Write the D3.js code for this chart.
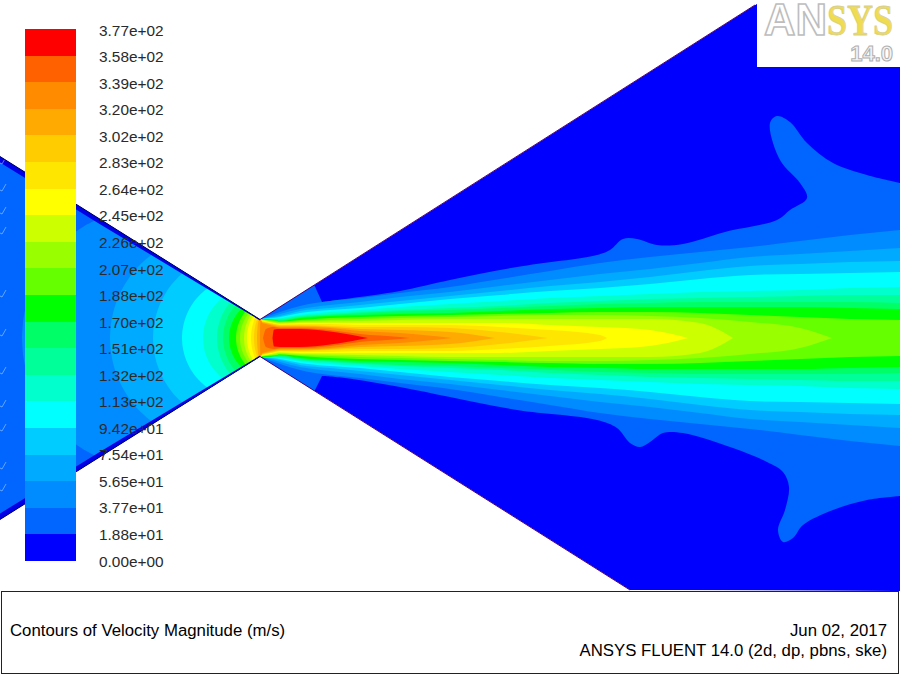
<!DOCTYPE html>
<html><head><meta charset="utf-8">
<script src="https://cdnjs.cloudflare.com/ajax/libs/d3/7.8.5/d3.min.js"></script>
<style>html,body{margin:0;padding:0;background:#fff}svg{display:block}text{font-family:"Liberation Sans",Arial,sans-serif}</style>
</head><body><svg id="c" width="900" height="675"></svg>
<script>
// ---------- legend ----------
const levelLabels=["0.00e+00","1.88e+01","3.77e+01","5.65e+01","7.54e+01","9.42e+01","1.13e+02","1.32e+02","1.51e+02","1.70e+02","1.88e+02","2.07e+02","2.26e+02","2.45e+02","2.64e+02","2.83e+02","3.02e+02","3.20e+02","3.39e+02","3.58e+02","3.77e+02"];
const bandColors=["#0000ff","#0066ff","#008cff","#00aaff","#00ccff","#00ffff","#00ffcc","#00ff99","#00ff66","#00ff00","#66ff00","#99ff00","#ccff00","#ffff00","#ffe600","#ffcc00","#ffaa00","#ff8c00","#ff6000","#ff0000"];
// ---------- geometry (axial x, radial r from the axis) ----------
const wallX=[0,260], wallR=[181.5,18.5];
const upperExit=[755,333], lowerExit=[630,252];
const layerX=[0,100,200,260], layerThickness=[6,5,2.5,1];
const inletMarkR=[178,151,128,108,45,6,-32,-65,-89,-127,-149];
// contour between band 0 and band 1
const blobUpper=[[322,36],[345,39],[400,47],[450,58],[517,71],[597,83],[610,88],[623,99],[637,99],[657,93],[683,94],[725,106],[777,118],[790,128],[807,140],[800,155],[780,178],[770,215],[777,222],[790,216],[807,195],[833,175],[867,163],[900,155]];
const blobLower=[[322,38],[345,40],[400,49],[450,59],[517,72],[597,82],[617,90],[630,105],[640,109],[650,104],[663,95],[683,95],[733,110],[767,124],[783,134],[789,149],[785,172],[778,192],[783,204],[793,200],[803,187],[833,172],[867,162],[900,158]];
// contours 2..19: where each crosses the axis in the nozzle, where it meets the wall, where its jet tongue ends
const nozzleAxisX=[22,110,153,182,203,217,223,229,236,240,244,247,251,254,257,260,263,272.5];
const nozzleWallX=[100,155,185,210,225,232,237,243,247,250,252,254,256,258,259,260.5,null,null];
const tongueTipX=[null,null,null,null,null,null,null,null,null,832,733,688,607,548,495,452,410,368];
const stations=[262,266,274,280,300,330,360,400,450,500,550,600,650,700,750,800,850,900];
const jet02=[19,21,24,26,32,37,40,45,51,59,67,75,81,86,91,97,103,108];
const jet03=[19,20,22,24,29,33,36,41,46,52,58,64,69,75,81,84,87,90];
const jet04=[19,20,21,22,27,30,33,37,42,47,52,56,61,67,72,74,76,77];
const jet05=[19,19.5,20,21,25,28,30,34,39,43,47,50,54,59,63,64,65,66];
const jet06=[19,19.5,19.5,20,23,26,28,31,34,37,40,42,44,46,47,48,50,51];
const jet07=[19,19,19,19,22,24,26,28,30,32,35,37,39,40,41,42,43,43];
const jet08=[19,19,18.5,18,21,23,25,27,28,30,32,34,35,36,36,36,36,35];
const jet09=[19,19,18,17,20,22,23,24,25,27,29,30,31,31,31,31,30,29];
const jet10=[18.5,18,17.5,16.5,18,20,21,22,23,24,25,26,26,25,23,21,19,18];
const jet11=[18,17.5,17,16,17,18,19,20,21,22,23,23,22,20,16,10];
const jet12=[18,17.5,16,15,16,16.5,17,18,19,19,19,19,19,15];
const jet13=[17.5,17,15,14,15,15,15,15,15,15,13,11,8];
const jet14=[17,16,14.5,13.5,14,14,13,13,13,11,8,3];
const jet15=[16.5,15.5,14,13,13,12,11,11,10,6];
const jet16=[16,15,13,12,12,11,9,8,6];
const jet17=[15,14,12,11,11,10,7,5];
const jet18=[null,9,11,10,10,8,4,1];
const jet19=[null,null,8.5,9,9,6.5,1.5];
const jets=[jet02,jet03,jet04,jet05,jet06,jet07,jet08,jet09,jet10,jet11,jet12,jet13,jet14,jet15,jet16,jet17,jet18,jet19];

// ---------- scales ----------
const X=d3.scaleLinear().domain([0,900]).range([0,900]);
const Y=d3.scaleLinear().domain([338,-337]).range([0,675]);
const legendY=d3.scaleLinear().domain([0,20]).range([561,29]);
const labelY=d3.scaleLinear().domain([0,20]).range([562.5,31.5]);
const wallAt=d3.scaleLinear().domain(wallX).range(wallR);

const svg=d3.select("#c");
const defs=svg.append("defs");
const domain=[[0,wallR[0]],[wallX[1],wallR[1]],upperExit,[763,338],[900,338],[900,-253],lowerExit.map((v,i)=>i?-v:v),[wallX[1],-wallR[1]],[0,-wallR[0]]];
const poly=d3.line().x(d=>X(d[0])).y(d=>Y(d[1]));
defs.append("clipPath").attr("id","flow").append("path").attr("d",poly(domain)+"Z");
const field=svg.append("g").attr("clip-path","url(#flow)");
field.append("path").attr("d",poly(domain)+"Z").attr("fill",bandColors[0]);

// half-shape helpers: sign +1 = above the axis, -1 = below
const smooth=s=>d3.line().x(d=>X(d[0])).y(d=>Y(s*d[1])).curve(d3.curveCatmullRom.alpha(0.5));
const mono=s=>d3.line().x(d=>X(d[0])).y(d=>Y(s*d[1])).curve(d3.curveMonotoneX);
const straight=s=>d3.line().x(d=>X(d[0])).y(d=>Y(s*d[1]));
const join=(a,b)=>a+"L"+b.slice(1);

// contour 1
[[1,blobUpper],[-1,blobLower]].forEach(([s,pts])=>{
  const head=straight(s)([[-5,0],[-5,200],[260,30],[312,58]]);
  const d=join(join(head,smooth(s)(pts)),straight(s)([[900,pts[pts.length-1][1]],[900,0]]))+"Z";
  field.append("path").attr("d",d).attr("fill",bandColors[1]);
});

function nozzleArc(x0,xw){
  const rw=wallAt(xw)+1.5, c=(xw*xw+rw*rw-x0*x0)/(2*(xw-x0)), R=c-x0, th=Math.atan2(rw,c-xw);
  return d3.range(9).map(k=>{const t=th*k/8;return [c-R*Math.cos(t),R*Math.sin(t)];});
}
jets.forEach((rs,idx)=>{
  const level=idx+2;
  const jetPts=stations.map((x,i)=>[x,rs[i]]).filter(p=>p[1]!=null);
  [1,-1].forEach(s=>{
    let d;
    const tip=tongueTipX[idx];
    const body=tip==null?jetPts:jetPts.concat([[tip,0]]);
    if(nozzleWallX[idx]!=null){
      d=join(smooth(s)(nozzleArc(nozzleAxisX[idx],nozzleWallX[idx])),mono(s)(body));
    }else{
      d=mono(s)([[nozzleAxisX[idx],0]].concat(body));
    }
    if(tip==null) d=join(d,straight(s)([[900,0]]));
    field.append("path").attr("d",d+"Z").attr("fill",bandColors[level]);
  });
});

// near-wall layer in the converging part
[1,-1].forEach(s=>{
  const outer=layerX.map(x=>[x,wallAt(x)+2]);
  const inner=layerX.map((x,i)=>[x,wallAt(x)-layerThickness[i]]).reverse();
  field.append("path").attr("d",straight(s)(outer.concat(inner))+"Z").attr("fill","#0000e6");
});
// inlet marks
field.selectAll("path.mark").data(inletMarkR).join("path").attr("class","mark")
  .attr("d",r=>straight(1)([[0,r-3],[2,r-4],[6,r+3]])).attr("fill","none").attr("stroke","#cfe8ff").attr("stroke-width",0.8).attr("opacity",0.6);
// walls
const wallLine=(pts,col,w)=>svg.append("path").attr("d",poly(pts)).attr("fill","none").attr("stroke",col).attr("stroke-width",w);
wallLine([[0,wallR[0]],[wallX[1],wallR[1]]],"#000060",1);
wallLine([[0,-wallR[0]],[wallX[1],-wallR[1]]],"#000060",1);
wallLine([[wallX[1],wallR[1]],upperExit],"#500070",1);
wallLine([[wallX[1],-wallR[1]],[lowerExit[0],-lowerExit[1]]],"#500070",1);

// ---------- legend ----------
svg.append("g").attr("shape-rendering","crispEdges").selectAll("rect").data(bandColors).join("rect")
  .attr("x",25).attr("width",51)
  .attr("y",(c,i)=>Math.round(legendY(i+1))).attr("height",(c,i)=>Math.round(legendY(i))-Math.round(legendY(i+1)))
  .attr("fill",c=>c);
svg.append("g").selectAll("text").data(levelLabels).join("text")
  .attr("x",99).attr("y",(t,i)=>labelY(i)).attr("dominant-baseline","middle")
  .attr("font-size",15.4).attr("fill","#2a2a2a").text(t=>t);

// ---------- logo ----------
svg.append("rect").attr("x",757).attr("y",0).attr("width",143).attr("height",67).attr("fill","#fff");
svg.append("text").attr("x",764).attr("y",35).attr("font-size",44).attr("font-weight",700)
  .attr("textLength",63).attr("lengthAdjust","spacingAndGlyphs")
  .attr("fill","#fff").attr("stroke","#bdbdbd").attr("stroke-width",1.6).text("AN");
svg.append("text").attr("x",827).attr("y",35).attr("font-size",44).attr("font-weight",700)
  .style("font-family","'Liberation Serif',serif").attr("textLength",66).attr("lengthAdjust","spacingAndGlyphs")
  .attr("fill","#f0dc50").attr("stroke","#d8cf90").attr("stroke-width",0.8).text("SYS");
svg.append("text").attr("x",893).attr("y",61).attr("text-anchor","end").attr("font-size",22).attr("font-weight",700)
  .attr("fill","#f4f4f4").attr("stroke","#b0b0b0").attr("stroke-width",1).text("14.0");

// ---------- footer ----------
svg.append("rect").attr("x",1.5).attr("y",591.5).attr("width",897).attr("height",82).attr("fill","#fff").attr("stroke","#222").attr("stroke-width",1);
const foot=(x,y,t,a)=>svg.append("text").attr("x",x).attr("y",y).attr("text-anchor",a).attr("font-size",16.8).attr("fill","#000").text(t);
foot(10,636,"Contours of Velocity Magnitude (m/s)","start");
foot(887,636,"Jun 02, 2017","end");
foot(887,656,"ANSYS FLUENT 14.0 (2d, dp, pbns, ske)","end");
</script></body></html>
